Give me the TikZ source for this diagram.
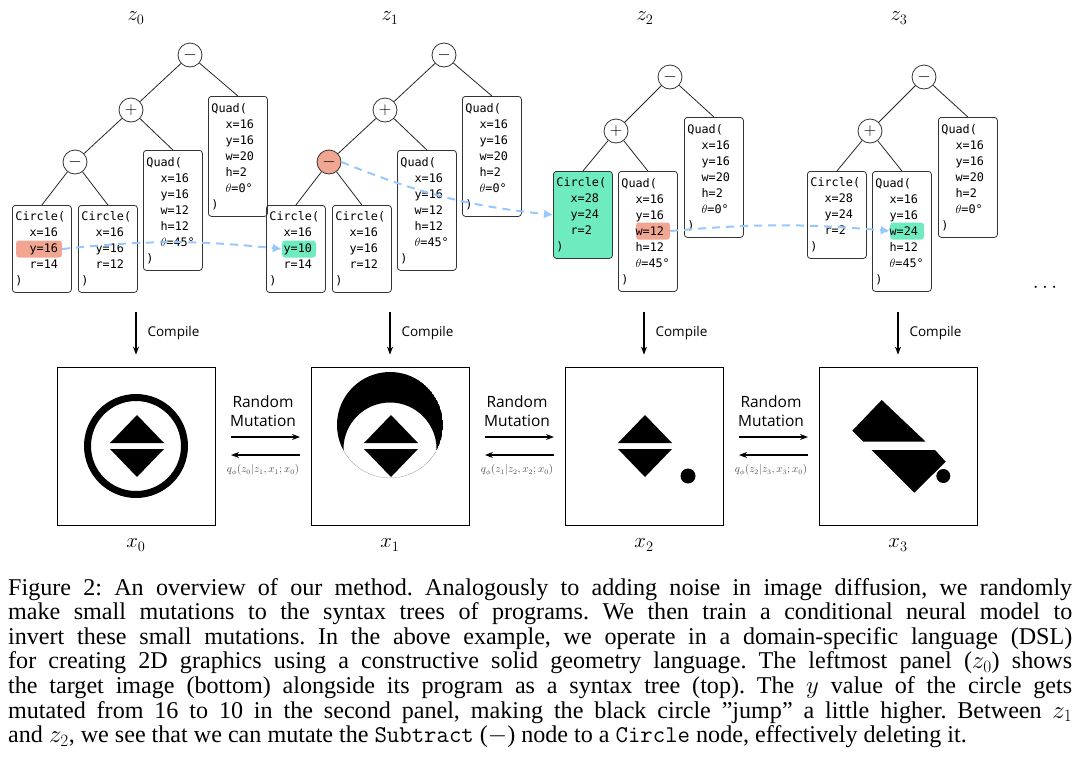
\documentclass[tikz,border=0pt]{standalone}
\usepackage{fontspec}
\setmainfont{Liberation Serif}
\newfontfamily\treefont{DejaVu Sans Mono}
\newfontfamily\lblfont{Open Sans}
\usetikzlibrary{arrows.meta}
\definecolor{hred}{RGB}{241,166,146}
\definecolor{hgreen}{RGB}{110,236,192}
\definecolor{hblue}{RGB}{150,200,255}
\newcommand\ind{\hspace*{2.2ex}}
\begin{document}
\begin{tikzpicture}[x=1pt,y=-1pt,
  op/.style={circle,draw=black!80,thick,fill=white,minimum size=24pt,inner sep=0pt,font=\fontsize{16}{16}\selectfont},
  box/.style={draw=black!80,thick,rounded corners=3pt,anchor=north west,minimum width=59pt,text width=53pt,
     inner xsep=3pt,inner ysep=3.5pt,align=left,font=\treefont\fontsize{11.8}{16}\selectfont},
  cbox/.style={box,minimum height=87pt},
  qbox/.style={box,minimum height=120pt},
  hl/.style={rounded corners=3pt,minimum height=17pt,inner sep=0pt},
  edge/.style={black!85,thick},
  arr/.style={-{Stealth[length=8pt,width=6pt]},line width=1.1pt},
  blu/.style={hblue,line width=2pt,dash pattern=on 8pt off 6pt,-{Latex[length=9pt,width=9pt]}},
  img/.style={draw,thick,minimum size=158pt,inner sep=0pt},
  zl/.style={font=\fontsize{22}{22}\selectfont},
  cmp/.style={font=\lblfont\fontsize{13.5}{15}\selectfont,anchor=west},
  rm/.style={font=\lblfont\fontsize{15.5}{20}\selectfont,align=center},
  ql/.style={font=\fontsize{10.5}{10.5}\selectfont,text=black!70}]
\useasboundingbox (0,0) rectangle (1080,782);
% labels
\node[zl] (z0) at (136,18) {$z_0$};
\node[zl] (z1) at (390,18) {$z_1$};
\node[zl] (z2) at (645,18) {$z_2$};
\node[zl] (z3) at (899,18) {$z_3$};
% highlights
\node[hl,fill=hred,minimum width=46pt] (h0) at (39,249) {};
\node[hl,fill=hgreen,minimum width=34pt] (h1) at (299,249) {};
\node[hl,fill=hred,minimum width=34pt] (h2) at (653,231) {};
\node[hl,fill=hgreen,minimum width=34pt] (h3) at (907,231) {};
% panel 0
\node[op] (r0) at (190,55) {$-$};
\node[op] (p0) at (131,110) {$+$};
\node[op] (m0) at (75,162) {$-$};
\node[cbox] (ca0) at (12,205) {Circle(\\\ind x=16\\\ind y=16\\\ind r=14\\)};
\node[cbox] (cb0) at (78,205) {Circle(\\\ind x=16\\\ind y=16\\\ind r=12\\)};
\node[qbox] (qa0) at (143,150) {Quad(\\\ind x=16\\\ind y=16\\\ind w=12\\\ind h=12\\\ind $\theta$=45°\\)};
\node[qbox] (qb0) at (208,96) {Quad(\\\ind x=16\\\ind y=16\\\ind w=20\\\ind h=2\\\ind $\theta$=0°\\)};
\draw[edge] (r0)--(p0) (r0)--(qb0.north) (p0)--(m0) (p0)--(qa0.north) (m0)--(ca0.north) (m0)--(cb0.north);
% panel 1
\node[op] (r1) at (444,55) {$-$};
\node[op] (p1) at (385,110) {$+$};
\node[op,fill=hred] (m1) at (329,162) {$-$};
\node[cbox] (ca1) at (266,205) {Circle(\\\ind x=16\\\ind y=10\\\ind r=14\\)};
\node[cbox] (cb1) at (332,205) {Circle(\\\ind x=16\\\ind y=16\\\ind r=12\\)};
\node[qbox] (qa1) at (397,150) {Quad(\\\ind x=16\\\ind y=16\\\ind w=12\\\ind h=12\\\ind $\theta$=45°\\)};
\node[qbox] (qb1) at (462,96) {Quad(\\\ind x=16\\\ind y=16\\\ind w=20\\\ind h=2\\\ind $\theta$=0°\\)};
\draw[edge] (r1)--(p1) (r1)--(qb1.north) (p1)--(m1) (p1)--(qa1.north) (m1)--(ca1.north) (m1)--(cb1.north);
% panel 2
\node[op] (r2) at (670,77) {$-$};
\node[op] (p2) at (616,131) {$+$};
\node[cbox,fill=hgreen] (ca2) at (553,171) {Circle(\\\ind x=28\\\ind y=24\\\ind r=2\\)};
\node[qbox] (qa2) at (618,171) {Quad(\\\ind x=16\\\ind y=16\\\ind w=12\\\ind h=12\\\ind $\theta$=45°\\)};
\node[qbox] (qb2) at (684,117) {Quad(\\\ind x=16\\\ind y=16\\\ind w=20\\\ind h=2\\\ind $\theta$=0°\\)};
\draw[edge] (r2)--(p2) (r2)--(qb2.north) (p2)--(ca2.north) (p2)--(qa2.north);
% panel 3
\node[op] (r3) at (924,77) {$-$};
\node[op] (p3) at (870,131) {$+$};
\node[cbox] (ca3) at (807,171) {Circle(\\\ind x=28\\\ind y=24\\\ind r=2\\)};
\node[qbox] (qa3) at (872,171) {Quad(\\\ind x=16\\\ind y=16\\\ind w=24\\\ind h=12\\\ind $\theta$=45°\\)};
\node[qbox] (qb3) at (938,117) {Quad(\\\ind x=16\\\ind y=16\\\ind w=20\\\ind h=2\\\ind $\theta$=0°\\)};
\draw[edge] (r3)--(p3) (r3)--(qb3.north) (p3)--(ca3.north) (p3)--(qa3.north);
% blue mutation arrows
\draw[blu] (h0.east) to[bend left=6] (h1.west);
\draw[blu] (m1.east) to[bend right=8] (ca2.west);
\draw[blu] (h2.east) to[bend left=5] (h3.west);
\node (dots) at (1045,288) {\fontsize{20}{20}\selectfont$\cdots$};
% images
\node[img] (im0) at (136,446) {};
\node[img] (im1) at (390,446) {};
\node[img] (im2) at (644,446) {};
\node[img] (im3) at (898,446) {};
\foreach \i/\x in {0/136,1/390,2/644,3/898}{
  \coordinate (cs\i) at (\x,312);
  \draw[arr] (cs\i) -- ([yshift=12pt]im\i.north);
  \node[cmp] (cl\i) at (\x+8,333) {Compile};
  \node[zl] (xl\i) at (\x,545) {$x_\i$};
}
\foreach \i/\j/\x in {0/1/263,1/2/517,2/3/771}{
  \node[rm] (rm\i) at (\x,411) {Random\\[-1pt]Mutation};
  \coordinate (ra\i) at (\x-32,437); \coordinate (rb\i) at (\x+37,437);
  \draw[arr] (ra\i) -- (rb\i);
  \coordinate (la\i) at (\x+37,455); \coordinate (lb\i) at (\x-32,455);
  \draw[arr] (la\i) -- (lb\i);
}
\node[ql] (q0) at (263,470) {$q_\phi(z_0|z_1,x_1;x_0)$};
\node[ql] (q1) at (517,470) {$q_\phi(z_1|z_2,x_2;x_0)$};
\node[ql] (q2) at (771,470) {$q_\phi(z_2|z_3,x_3;x_0)$};
% image contents
% x0
\fill[even odd rule] (136,446) circle (52) (136,446) circle (45);
\fill (137,415) -- (164,443) -- (110,443) -- cycle;
\fill (110,449) -- (164,449) -- (137,477) -- cycle;
% x1
\begin{scope}
\clip (390,425) circle (53);
\fill[even odd rule] (390,425) circle (53) (390,449) circle (46.5);
\end{scope}
\fill (391,415) -- (418,443) -- (364,443) -- cycle;
\fill (364,449) -- (418,449) -- (391,477) -- cycle;
% x2
\fill (645,415) -- (672,443) -- (618,443) -- cycle;
\fill (618,449) -- (672,449) -- (645,477) -- cycle;
\fill (688,476) circle (7.5);
% x3
\fill (881.7,400) -- (925.7,441.7) -- (863.3,441.7) -- (852.3,430.7) -- cycle;
\fill (871.7,450) -- (935,450) -- (945.7,461.7) -- (914.3,492.7) -- cycle;
\fill (943.3,476) circle (7);
% caption
\node[anchor=north west,inner sep=0pt,text width=1064pt,align=justify,font=\fontsize{24.1}{24.6}\selectfont\frenchspacing] (cap) at (8,578) {Figure 2: An overview of our method. Analogously to adding noise in image diffusion, we randomly\linebreak make small mutations to the syntax trees of programs. We then train a conditional neural model to\linebreak invert these small mutations. In the above example, we operate in a domain-specific language (DSL)\linebreak for creating 2D graphics using a constructive solid geometry language. The leftmost panel ($z_0$) shows\linebreak the target image (bottom) alongside its program as a syntax tree (top). The $y$ value of the circle gets\linebreak mutated from 16 to 10 in the second panel, making the black circle {\char34}jump{\char34} a little higher. Between $z_1$\linebreak and $z_2$, we see that we can mutate the \texttt{Subtract} ($-$) node to a \texttt{Circle} node, effectively deleting it.};
\end{tikzpicture}
\end{document}
